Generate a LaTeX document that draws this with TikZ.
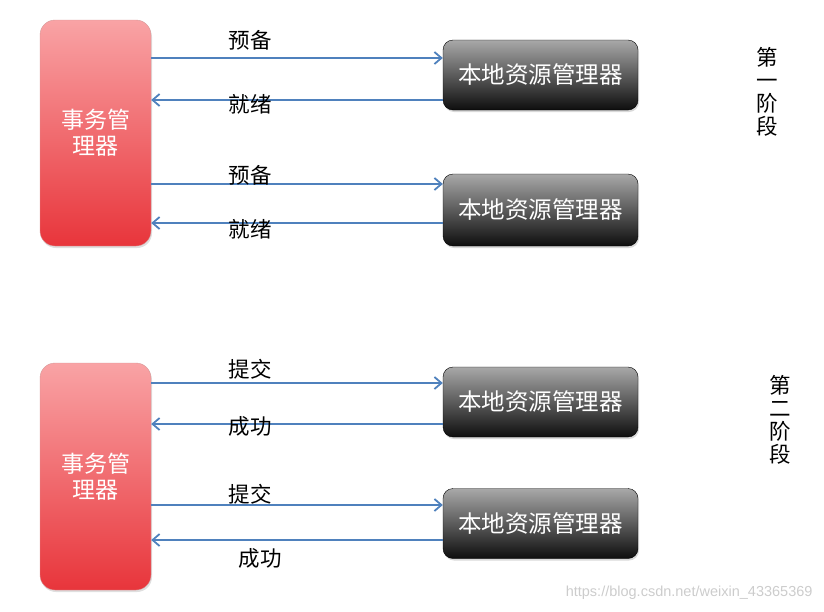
\documentclass[tikz,border=0pt]{standalone}
\usepackage{fontspec}
\setmainfont{Liberation Sans}
\newfontfamily\cjk{Noto Sans CJK SC}
\usetikzlibrary{arrows.meta,shadows}
\definecolor{arrowblue}{HTML}{4F81BD}
\definecolor{redtop}{HTML}{F9A3A5}
\definecolor{redbot}{HTML}{E8353B}
\definecolor{graytop}{HTML}{A8A8A8}
\definecolor{graybot}{HTML}{0E0E0E}
\tikzset{
  tmbox/.style={draw=red!60!black!40, rounded corners=15pt, top color=redtop, bottom color=redbot,
    minimum width=111pt, align=center, text=white,
    font=\cjk\fontsize{23}{26}\selectfont, drop shadow={shadow xshift=1pt,shadow yshift=-2pt,opacity=0.25}},
  rmbox/.style={draw=black, rounded corners=10pt, top color=graytop, bottom color=graybot,
    minimum width=195pt, text=white, font=\cjk\fontsize{23.5}{26}\selectfont,
    drop shadow={shadow xshift=1pt,shadow yshift=-2pt,opacity=0.3}},
  arr/.style={draw=arrowblue, line width=2pt, -{Straight Barb[length=7pt,width=12pt,line width=1.8pt]}},
  lbl/.style={font=\cjk\fontsize{21.5}{24}\selectfont, text=black},
  phase/.style={font=\cjk\fontsize{21.5}{23}\selectfont, align=center, text=black},
}
\begin{document}
\begin{tikzpicture}[x=1pt,y=-1pt]
\useasboundingbox (0,0) rectangle (824,611);
% transaction managers
\node[tmbox, minimum height=226pt] (t1) at (95.5,133) {事务管\\理器};
\node[tmbox, minimum height=227pt] (t2) at (95.5,476.5) {事务管\\理器};
% resource managers
\node[rmbox, minimum height=70pt] (r1) at (540.5,75) {本地资源管理器};
\node[rmbox, minimum height=72pt] (r2) at (540.5,210) {本地资源管理器};
\node[rmbox, minimum height=70pt] (r3) at (540.5,402) {本地资源管理器};
\node[rmbox, minimum height=70pt] (r4) at (540.5,523.5) {本地资源管理器};
% phase 1
\draw[arr] (t1.east |- 0,58) -- (r1.west |- 0,58);
\draw[arr] (r1.west |- 0,100) -- (t1.east |- 0,100);
\draw[arr] (t1.east |- 0,184) -- (r2.west |- 0,184);
\draw[arr] (r2.west |- 0,223) -- (t1.east |- 0,223);
\node[lbl] (l1) at (250,40) {预备};
\node[lbl] (l2) at (250,104) {就绪};
\node[lbl] (l3) at (250,175) {预备};
\node[lbl] (l4) at (250,229) {就绪};
% phase 2
\draw[arr] (t2.east |- 0,383) -- (r3.west |- 0,383);
\draw[arr] (r3.west |- 0,424) -- (t2.east |- 0,424);
\draw[arr] (t2.east |- 0,505) -- (r4.west |- 0,505);
\draw[arr] (r4.west |- 0,540) -- (t2.east |- 0,540);
\node[lbl] (l5) at (250,369) {提交};
\node[lbl] (l6) at (250,426) {成功};
\node[lbl] (l7) at (250,494) {提交};
\node[lbl] (l8) at (260,558) {成功};
% phase labels
\node[phase] (p1) at (767,92) {第\\一\\阶\\段};
\node[phase] (p2) at (780,420) {第\\二\\阶\\段};
% watermark
\node[font=\fontsize{14.5}{16}\selectfont, text=black!20, anchor=east] (wm) at (816,593) {https://blog.csdn.net/weixin\_43365369};
\end{tikzpicture}
\end{document}
